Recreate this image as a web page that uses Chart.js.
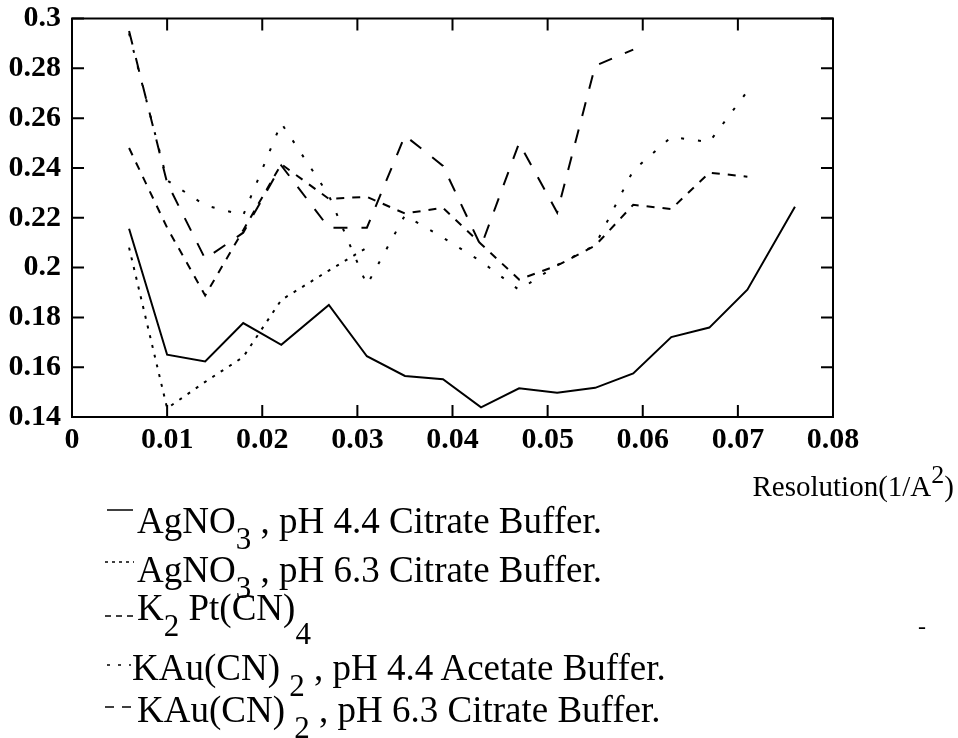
<!DOCTYPE html>
<html>
<head>
<meta charset="utf-8">
<script src="https://cdn.jsdelivr.net/npm/chart.js@4.4.0/dist/chart.umd.min.js"></script>
<style>
  body { margin: 0; background: #fff; width: 958px; height: 738px; overflow: hidden; position: relative; }
  #wrap { position: absolute; left: 0; top: 0; width: 958px; height: 470px; }
  .txt { position: absolute; font-family: "Liberation Serif", "Times New Roman", serif; color: #000; white-space: nowrap; line-height: 1; }
  .leg { font-size: 37px; }
  .leg sub { font-size: 31px; vertical-align: -16px; line-height: 0; }
  #xtitle { font-size: 29px; right: 4px; top: 472px; }
  #xtitle sup { font-size: 26px; vertical-align: 13px; line-height: 0; }
  svg { position: absolute; left: 0; top: 0; }
</style>
</head>
<body>
<div id="wrap"><canvas id="chart" width="958" height="470"></canvas></div>

<div class="txt" id="xtitle">Resolution(1/A<sup>2</sup>)</div>

<svg width="958" height="738">
  <line x1="107" y1="510" x2="133" y2="510" stroke="#000" stroke-width="1.5"/>
  <line x1="105" y1="562" x2="134" y2="562" stroke="#000" stroke-width="1.5" stroke-dasharray="3,4"/>
  <line x1="105" y1="616" x2="134" y2="616" stroke="#000" stroke-width="1.5" stroke-dasharray="6,5"/>
  <line x1="107" y1="665" x2="131" y2="665" stroke="#000" stroke-width="1.5" stroke-dasharray="3,8"/>
  <line x1="105" y1="707" x2="134" y2="707" stroke="#000" stroke-width="1.5" stroke-dasharray="9,8"/>
</svg>
<div class="txt leg" style="left:137px;top:502px">AgNO<sub>3</sub> , pH 4.4 Citrate Buffer.</div>
<div class="txt leg" style="left:137px;top:551px">AgNO<sub>3</sub> , pH 6.3 Citrate Buffer.</div>
<div class="txt leg" style="left:137px;top:589px">K<sub>2</sub> Pt(CN)<sub style="vertical-align:-24px">4</sub></div>
<div class="txt leg" style="left:132px;top:649px">KAu(CN) <sub>2</sub> , pH 4.4 Acetate Buffer.</div>
<div class="txt leg" style="left:137px;top:691px">KAu(CN) <sub>2</sub> , pH 6.3 Citrate Buffer.</div>
<div class="txt" style="left:918px;top:614px;font-size:24px">-</div>

<script>
// resolution bins (1/A^2)
var resolution = [0.006, 0.010, 0.014, 0.018, 0.022, 0.027, 0.031, 0.035, 0.039,
  0.043, 0.047, 0.051, 0.055, 0.059, 0.063, 0.067, 0.071, 0.076];

// one array per derivative
var agno3Ph44 = [0.2156, 0.165, 0.1623, 0.1777, 0.169, 0.185, 0.1644, 0.1565, 0.1552,
  0.1439, 0.1515, 0.1497, 0.1517, 0.1575, 0.1721, 0.1759, 0.1911, 0.2244];
var agno3Ph63 = [0.208, 0.1435, 0.1541, 0.1641, 0.187, 0.1988, 0.208];
var k2PtCN4 = [0.248, 0.216, 0.1888, 0.215, 0.2415, 0.2276, 0.2284, 0.2217, 0.224,
  0.2095, 0.1952, 0.2008, 0.2088, 0.2252, 0.2235, 0.2381, 0.2365];
var kauAcetate44 = [0.294, 0.235, 0.225, 0.221, 0.258, 0.229, 0.193, 0.221, 0.212,
  0.2025, 0.191, 0.201, 0.209, 0.239, 0.2524, 0.2504, 0.2708];
var kauCitrate63 = [0.295, 0.234, 0.2035, 0.214, 0.241, 0.216, 0.216, 0.253, 0.2408,
  0.2085, 0.250, 0.2221, 0.281, 0.2875];

var xTicks = ["0", "0.01", "0.02", "0.03", "0.04", "0.05", "0.06", "0.07", "0.08"];
var yTicks = ["0.14", "0.16", "0.18", "0.2", "0.22", "0.24", "0.26", "0.28", "0.3"];

function pts(vals) {
  return vals.map(function (v, i) { return { x: resolution[i], y: v }; });
}

function series(vals, dash) {
  return {
    data: pts(vals),
    borderColor: "#000",
    borderWidth: 2,
    borderDash: dash,
    pointRadius: 0,
    tension: 0,
    fill: false
  };
}

// box round the plot with inward ticks on all four sides
var frame = {
  id: "frame",
  afterDatasetsDraw: function (chart) {
    var ctx = chart.ctx, a = chart.chartArea;
    var xs = chart.scales.x, ys = chart.scales.y, len = 12;
    ctx.save();
    ctx.strokeStyle = "#000";
    ctx.lineWidth = 2;
    ctx.strokeRect(a.left, a.top, a.right - a.left, a.bottom - a.top);
    ctx.beginPath();
    xs.ticks.forEach(function (t) {
      var px = xs.getPixelForValue(t.value);
      ctx.moveTo(px, a.bottom); ctx.lineTo(px, a.bottom - len);
      ctx.moveTo(px, a.top); ctx.lineTo(px, a.top + len);
    });
    ys.ticks.forEach(function (t) {
      var py = ys.getPixelForValue(t.value);
      ctx.moveTo(a.left, py); ctx.lineTo(a.left + len, py);
      ctx.moveTo(a.right, py); ctx.lineTo(a.right - len, py);
    });
    ctx.stroke();
    ctx.restore();
  }
};

var tickFont = { family: "'Liberation Serif', serif", size: 30, weight: "bold", lineHeight: 0.5 };

new Chart(document.getElementById("chart").getContext("2d"), {
  type: "line",
  data: {
    datasets: [
      series(agno3Ph44, []),
      series(agno3Ph63, [3, 7]),
      series(k2PtCN4, [8, 8]),
      series(kauAcetate44, [3, 14]),
      series(kauCitrate63, [14, 14])
    ]
  },
  options: {
    responsive: false,
    animation: false,
    layout: { padding: { top: 17, right: 125, left: 0, bottom: 0 } },
    plugins: { legend: { display: false }, tooltip: { enabled: false } },
    scales: {
      x: {
        type: "linear",
        min: 0,
        max: 0.08,
        grid: { display: false, drawTicks: false },
        border: { display: false },
        ticks: {
          stepSize: 0.01,
          padding: 16,
          color: "#000",
          font: tickFont,
          maxRotation: 0,
          autoSkip: false,
          callback: function (v, i) { return xTicks[i]; }
        },
        afterFit: function (s) { s.height = 53; }
      },
      y: {
        min: 0.14,
        max: 0.3,
        grid: { display: false, drawTicks: false },
        border: { display: false },
        ticks: {
          stepSize: 0.02,
          padding: 11,
          color: "#000",
          font: tickFont,
          autoSkip: false,
          callback: function (v, i) { return yTicks[i]; }
        },
        afterFit: function (s) { s.width = 72; }
      }
    }
  },
  plugins: [frame]
});
</script>
</body>
</html>
